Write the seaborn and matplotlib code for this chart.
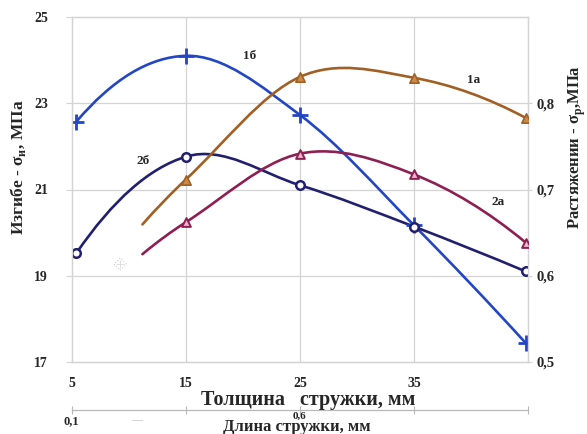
import numpy as np
import pandas as pd
import matplotlib
matplotlib.use("Agg")
import matplotlib.pyplot as plt
from matplotlib.path import Path
from matplotlib.patches import PathPatch
from matplotlib.transforms import blended_transform_factory
import seaborn as sns

# Bending strength (left axis, MPa) vs chip thickness, mm
x_b = [5.4, 15, 25, 35, 44.8]
bend_1b = [22.57, 24.10, 22.73, 20.17, 17.44]
bend_2b = [19.52, 21.76, 21.10, 20.14, 19.10]

# Tensile strength (right axis, MPa) vs chip thickness, mm
x_a = [11.2, 15, 25, 35, 44.8]
tens_1a = [0.6595, 0.7115, 0.8305, 0.8295, 0.783]
tens_2a = [0.625, 0.662, 0.7415, 0.7175, 0.6385]

x_ticks = [5, 15, 25, 35]
left_ticks = [17, 19, 21, 23, 25]
right_ticks = [0.5, 0.6, 0.7, 0.8]
right_labels = ["0,5", "0,6", "0,7", "0,8"]

C_1B = "#2346c4"
C_2B = "#22206e"
C_1A = "#a25f24"
C_2A = "#8e1f52"
GRID = "#d4d4d4"

sns.set_style("white")
plt.rcParams["font.family"] = ["Liberation Serif", "DejaVu Serif"]
plt.rcParams["font.weight"] = "bold"


def smooth_path(xs, ys):
    """Cubic Bezier path through the points (Hermite tangents)."""
    xs = np.asarray(xs, float)
    ys = np.asarray(ys, float)
    n = len(xs)
    m = np.zeros(n)
    for i in range(1, n - 1):
        m[i] = (ys[i + 1] - ys[i - 1]) / (xs[i + 1] - xs[i - 1])
    m[0] = 2 * (ys[1] - ys[0]) / (xs[1] - xs[0]) - m[1]
    m[-1] = 2 * (ys[-1] - ys[-2]) / (xs[-1] - xs[-2]) - m[-2]
    verts = [(xs[0], ys[0])]
    codes = [Path.MOVETO]
    for i in range(n - 1):
        h = xs[i + 1] - xs[i]
        verts += [(xs[i] + h / 3, ys[i] + m[i] * h / 3),
                  (xs[i + 1] - h / 3, ys[i + 1] - m[i + 1] * h / 3),
                  (xs[i + 1], ys[i + 1])]
        codes += [Path.CURVE4] * 3
    return Path(verts, codes)


fig = plt.figure(figsize=(5.87, 4.34), dpi=100)
ax = fig.add_axes([71.7 / 587, 1 - 362 / 434, (528 - 71.7) / 587, (362 - 17) / 434])
ax2 = ax.twinx()

ax.set_xlim(5, 45)
ax.set_ylim(17, 25)
ax2.set_ylim(0.5, 0.9)

ax.set_xticks(x_ticks)
ax.set_xticklabels([str(v) for v in x_ticks], fontsize=10, fontweight="bold")
ax.set_yticks(left_ticks)
ax.set_yticklabels([str(v) for v in left_ticks], fontsize=10, fontweight="bold")
ax2.set_yticks(right_ticks)
ax2.set_yticklabels(right_labels, fontsize=10.5, fontweight="bold")

# grid lines, including the lines at x = 45 and y = 25
for gx in [15, 25, 35]:
    ax.axvline(gx, color=GRID, lw=0.9, zorder=0)
for gy in [19, 21, 23]:
    ax.axhline(gy, color=GRID, lw=0.9, zorder=0)
for sp in ["left", "right", "top", "bottom"]:
    ax.spines[sp].set_color(GRID)
    ax2.spines[sp].set_color(GRID)
    ax.spines[sp].set_linewidth(0.9)
    ax2.spines[sp].set_linewidth(0.9)
ax.spines["bottom"].set_color("#c4c4c4")

ax.tick_params(axis="x", length=4, color="#c4c4c4", pad=7)
ax.tick_params(axis="y", length=4, color=GRID, pad=13)
ax2.tick_params(axis="y", length=3, color=GRID, pad=3)

# smoothed curves
for axis, xs, ys, col in [(ax, x_b, bend_1b, C_1B), (ax, x_b, bend_2b, C_2B),
                          (ax2, x_a, tens_1a, C_1A), (ax2, x_a, tens_2a, C_2A)]:
    axis.add_patch(PathPatch(smooth_path(xs, ys), fill=False, edgecolor=col,
                             lw=1.9, zorder=3, capstyle="round"))

# markers
df_1b = pd.DataFrame({"x": x_b, "y": bend_1b})
df_2b = pd.DataFrame({"x": x_b, "y": bend_2b})
df_1a = pd.DataFrame({"x": x_a[1:], "y": tens_1a[1:]})
df_2a = pd.DataFrame({"x": x_a[1:], "y": tens_2a[1:]})

sns.scatterplot(data=df_1b, x="x", y="y", ax=ax, marker="+", s=140,
                color=C_1B, linewidth=2.0, zorder=5, legend=False)
sns.scatterplot(data=df_2b, x="x", y="y", ax=ax, marker="o", s=38,
                facecolor="white", edgecolor=C_2B, linewidth=1.8, zorder=5,
                legend=False)
sns.scatterplot(data=df_1a, x="x", y="y", ax=ax2, marker="^", s=45,
                facecolor="#c98a4c", edgecolor=C_1A, linewidth=1.2, zorder=5,
                legend=False)
sns.scatterplot(data=df_2a, x="x", y="y", ax=ax2, marker="^", s=40,
                facecolor="#e9b7cb", edgecolor=C_2A, linewidth=1.4, zorder=5,
                legend=False)

# faint stray marker
ax.scatter([9.25], [19.27], marker="D", s=40, facecolor="none",
           edgecolor="#d2d2d2", linewidth=0.8, linestyle=":", zorder=2)
ax.scatter([9.25], [19.27], marker="+", s=30, color="#dcdcdc",
           linewidth=0.6, zorder=2)

# curve labels
ax.text(20.6, 24.1, "1б", fontsize=9.5, fontweight="bold", ha="center", va="center")
ax.text(11.3, 21.65, "2б", fontsize=9.5, fontweight="bold", ha="center", va="center")
ax.text(40.2, 23.54, "1а", fontsize=9.5, fontweight="bold", ha="center", va="center")
ax.text(42.4, 20.72, "2а", fontsize=9.5, fontweight="bold", ha="center", va="center")

ax.set_xlabel("")
ax.set_ylabel("")
ax2.set_ylabel("")

# axis titles
fig.text(18 / 587, 1 - 167 / 434, "Изгибе - σ$_{\\mathregular{и}}$, МПа",
         rotation=90, ha="center", va="center", fontsize=12.5, fontweight="bold")
fig.text(577 / 587, 1 - 147 / 434, "Растяжении - σ$_{\\mathregular{р}}$,МПа",
         rotation=90, ha="center", va="center", fontsize=12, fontweight="bold")
fig.text(308 / 587, 1 - 400 / 434, "Толщина   стружки, мм",
         ha="center", va="center", fontsize=14.5, fontweight="bold")

# second horizontal scale: chip length
sec = ax.secondary_xaxis(location=(362 - 410) / 345)
sec.set_xticks([5, 15, 25, 35, 45])
sec.set_xticklabels([])
sec.tick_params(direction="inout", length=6, color="#b8b8b8")
sec.spines["bottom"].set_color("#b8b8b8")
sec.spines["bottom"].set_linewidth(0.9)

tr = blended_transform_factory(ax.transData, fig.transFigure)
ax.text(5, 1 - 421 / 434, "0,1", transform=tr, ha="center", va="center",
        fontsize=9, fontweight="bold")
ax.text(10.7, 1 - 421 / 434, "—", transform=tr, ha="center", va="center",
        fontsize=8, color="#c8c8c8")
ax.text(25, 1 - 416 / 434, "0,6", transform=tr, ha="center", va="center",
        fontsize=8, fontweight="bold")
fig.text(297 / 587, 1 - 427 / 434, "Длина стружки, мм", ha="center",
         va="center", fontsize=12, fontweight="bold")

fig.savefig("out.png", dpi=100)
